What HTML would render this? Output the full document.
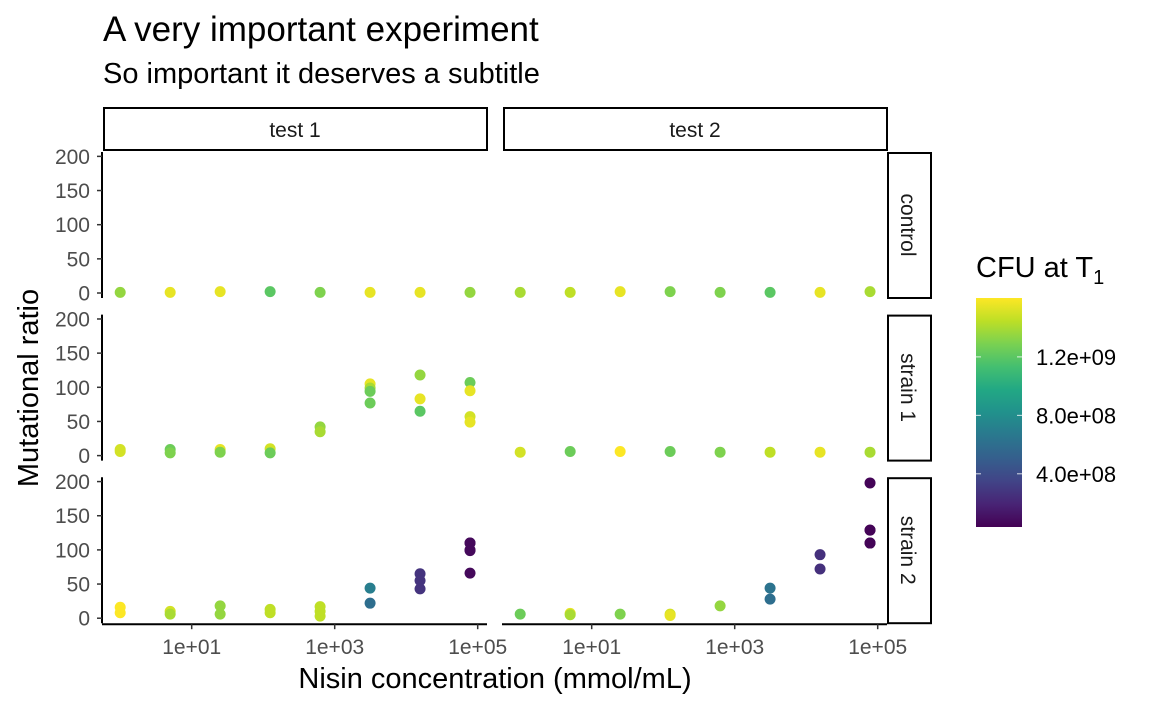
<!DOCTYPE html>
<html><head><meta charset="utf-8"><style>
body{margin:0;background:#fff;font-family:"Liberation Sans",Arial,sans-serif}
svg text{font-family:"Liberation Sans",Arial,sans-serif}
</style></head><body>
<svg id="chart" width="1152" height="711" xmlns="http://www.w3.org/2000/svg">
<defs><linearGradient id="vir" x1="0" y1="1" x2="0" y2="0">
<stop offset="0" stop-color="#440154"/><stop offset="0.1" stop-color="#482475"/><stop offset="0.2" stop-color="#414487"/><stop offset="0.3" stop-color="#355f8d"/><stop offset="0.4" stop-color="#2a788e"/><stop offset="0.5" stop-color="#21918c"/><stop offset="0.6" stop-color="#22a884"/><stop offset="0.7" stop-color="#44bf70"/><stop offset="0.8" stop-color="#7ad151"/><stop offset="0.9" stop-color="#bddf26"/><stop offset="1" stop-color="#fde725"/>
</linearGradient></defs>
<text x="103" y="41" font-size="35" fill="#000">A very important experiment</text>
<text x="103" y="83" font-size="29" fill="#000">So important it deserves a subtitle</text>
<text transform="translate(38,388) rotate(-90)" text-anchor="middle" font-size="29">Mutational ratio</text>
<text x="495" y="688" text-anchor="middle" font-size="29">Nisin concentration (mmol/mL)</text>
<g id="plot"></g>
<g>
<text x="976" y="277" font-size="29">CFU at  T<tspan font-size="20" dy="7">1</tspan></text>
<rect x="976" y="298" width="46" height="229" fill="url(#vir)"/>
<g id="cbticks"></g>
</g>
</svg>
<script>
const concentrations=[1,5,25,125,625,3125,15625,78125];
const testLabels=["test 1","test 2"];
const strainLabels=["control","strain 1","strain 2"];
const xTickValues=[10,1000,100000];
const xTickLabels=["1e+01","1e+03","1e+05"];
const yTickValues=[0,50,100,150,200];
const cbTickValues=[4e8,8e8,1.2e9];
const cbTickLabels=["4.0e+08","8.0e+08","1.2e+09"];
// points: test index, strain index, conc index, ratio, CFU
const ptTest=[0,0,0,0,0,0,0,0, 1,1,1,1,1,1,1,1,
 0,0,0,0,0,0,0,0,0,0,0,0,0,0,0,0,0,0,0,0,0, 1,1,1,1,1,1,1,1,
 0,0,0,0,0,0,0,0,0,0,0,0,0,0,0,0,0,0,0,0,0, 1,1,1,1,1,1,1,1,1,1,1,1,1,1,1,1];
const ptStrain=[0,0,0,0,0,0,0,0, 0,0,0,0,0,0,0,0,
 1,1,1,1,1,1,1,1,1,1,1,1,1,1,1,1,1,1,1,1,1, 1,1,1,1,1,1,1,1,
 2,2,2,2,2,2,2,2,2,2,2,2,2,2,2,2,2,2,2,2,2, 2,2,2,2,2,2,2,2,2,2,2,2,2,2,2,2];
const ptConc=[0,1,2,3,4,5,6,7, 0,1,2,3,4,5,6,7,
 0,0,1,1,2,2,3,3,4,4,5,5,5,5,6,6,6,7,7,7,7, 0,1,2,3,4,5,6,7,
 0,0,1,1,2,2,3,3,4,4,4,5,5,6,6,6,7,7,7,7,7, 0,1,1,2,3,3,4,5,5,6,6,7,7,7,7,7];
const ptRatio=[1,1,2,2,1,1,1,1, 1,1,2,2,1,1,1,2,
 9,6,9,4,9,5,10,4,42,35,105,99,94,77,118,83,65,107,95,57,49, 5,6,6,6,5,5,5,5,
 16,8,10,6,18,6,13,8,17,10,3,44,22,65,55,43,110,99,66,100,110, 6,7,5,6,6,4,18,44,28,93,72,198,129,110,129,110];
const ptCfu=[1.35e9,1.55e9,1.55e9,1.2e9,1.3e9,1.55e9,1.55e9,1.35e9, 1.4e9,1.45e9,1.55e9,1.3e9,1.3e9,1.2e9,1.55e9,1.4e9,
 1.5e9,1.5e9,1.25e9,1.3e9,1.55e9,1.3e9,1.5e9,1.25e9,1.35e9,1.4e9,1.55e9,1.4e9,1.25e9,1.25e9,1.35e9,1.55e9,1.2e9,1.25e9,1.55e9,1.5e9,1.55e9, 1.5e9,1.25e9,1.6e9,1.25e9,1.3e9,1.45e9,1.55e9,1.4e9,
 1.6e9,1.6e9,1.5e9,1.4e9,1.35e9,1.35e9,1.45e9,1.45e9,1.45e9,1.45e9,1.45e9,7e8,6e8,2.7e8,2.7e8,2.7e8,7e7,7e7,7e7,7e7,7e7, 1.25e9,1.55e9,1.4e9,1.3e9,1.5e9,1.55e9,1.35e9,6.3e8,6e8,2.5e8,2.5e8,5e7,5e7,5e7,5e7,5e7];

const NS="http://www.w3.org/2000/svg";
const plot=document.getElementById('plot');
function mk(tag,attrs,parent){const e=document.createElementNS(NS,tag);for(const k in attrs)e.setAttribute(k,attrs[k]);(parent||plot).appendChild(e);return e;}
const panelX=[103,503], panelW=384, rowTop=[152,314.6,477.2], rowH=146;
const yMin=-7.3,yMax=206.4;
function xScale(t,c){return panelX[t]+88.7+(Math.log10(c)-1)*71.5;}
function yScale(s,v){return rowTop[s]+rowH*(1-(v-yMin)/(yMax-yMin));}
const cMin=3.6e7,cMax=1.603e9;
const vs=["#440154","#482475","#414487","#355f8d","#2a788e","#21918c","#22a884","#44bf70","#7ad151","#bddf26","#fde725"];
function hx(h){return [1,3,5].map(i=>parseInt(h.substr(i,2),16));}
function viridis(c){let t=Math.max(0,Math.min(1,(c-cMin)/(cMax-cMin)))*10;let i=Math.min(9,Math.floor(t)),f=t-i;const a=hx(vs[i]),b=hx(vs[i+1]);return 'rgb('+a.map((v,k)=>Math.round(v+(b[k]-v)*f)).join(',')+')';}
// strips
testLabels.forEach((l,t)=>{
 const g=mk('g',{});
 
 
 mk('rect',{x:panelX[t]+1,y:108,width:panelW-1,height:42,fill:'#fff',stroke:'#000','stroke-width':2},g);
 const tx=mk('text',{x:panelX[t]+panelW/2,y:137,'text-anchor':'middle','font-size':21,fill:'#1a1a1a'},g);tx.textContent=l;
});
strainLabels.forEach((l,s)=>{
 const g=mk('g',{});
 
 
 mk('rect',{x:888,y:rowTop[s]+1,width:43,height:rowH-1,fill:'#fff',stroke:'#000','stroke-width':2},g);
 const tx=mk('text',{transform:'translate(901,'+(rowTop[s]+rowH/2)+') rotate(90)','text-anchor':'middle','font-size':21,fill:'#1a1a1a'},g);tx.textContent=l;
 const ax=mk('g',{});
 
 
 mk('line',{x1:102,x2:102,y1:rowTop[s],y2:rowTop[s]+rowH,stroke:'#000','stroke-width':2},ax);
 yTickValues.forEach(v=>{const y=yScale(s,v);
  mk('line',{x1:97,x2:102,y1:y,y2:y,stroke:'#333','stroke-width':1.5},ax);
  const tt=mk('text',{x:90,y:y+7.5,'text-anchor':'end','font-size':21,fill:'#4d4d4d'},ax);tt.textContent=v;});
});
// x axes
[0,1].forEach(t=>{
 const ax=mk('g',{});
 
 
 const yb=rowTop[2]+rowH+1;
 mk('line',{x1:panelX[t]-1,x2:panelX[t]+panelW,y1:yb,y2:yb,stroke:'#000','stroke-width':2},ax);
 xTickValues.forEach((c,i)=>{const x=xScale(t,c);
  mk('line',{x1:x,x2:x,y1:yb,y2:yb+5,stroke:'#333','stroke-width':1.5},ax);
  const tt=mk('text',{x:x,y:yb+30,'text-anchor':'middle','font-size':21,fill:'#4d4d4d'},ax);tt.textContent=xTickLabels[i];});
});
// points
for(let i=0;i<ptRatio.length;i++){
 const c=mk('circle',{cx:xScale(ptTest[i],concentrations[ptConc[i]]),cy:yScale(ptStrain[i],ptRatio[i]),r:5.5,fill:viridis(ptCfu[i])});
 
 
}
// colorbar ticks
const cb=document.getElementById('cbticks');
cbTickValues.forEach((v,i)=>{const y=298+229*(1-(v-cMin)/(cMax-cMin));
 mk('line',{x1:976,x2:981,y1:y,y2:y,stroke:'#fff','stroke-width':1,opacity:0.8},cb);
 mk('line',{x1:1017,x2:1022,y1:y,y2:y,stroke:'#fff','stroke-width':1,opacity:0.8},cb);
 const tt=mk('text',{x:1036,y:y+8,'font-size':22,fill:'#000'},cb);
 
 
 tt.textContent=cbTickLabels[i];});
</script>
</body></html>
